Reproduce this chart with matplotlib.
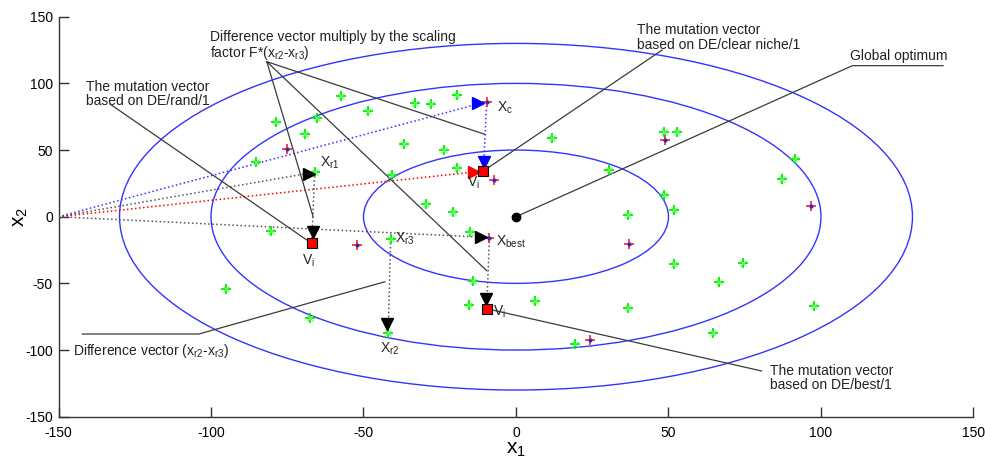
import matplotlib
matplotlib.use('Agg')
import matplotlib.pyplot as plt
from matplotlib.patches import Ellipse

plt.rcParams['font.family'] = ['Liberation Sans', 'DejaVu Sans']
plt.rcParams['mathtext.fontset'] = 'custom'
plt.rcParams['mathtext.rm'] = 'Liberation Sans'
plt.rcParams['mathtext.it'] = 'Liberation Sans'
plt.rcParams['mathtext.bf'] = 'Liberation Sans:bold'
plt.rcParams['axes.unicode_minus'] = False

# ---------------- data ----------------
contour_radii = [50, 100, 130]
optimum = (0, 0)
start_pt = (-150, 0)

green_x = [-78.8, -65.2, -69.2, -85.2, -66.0, -80.4, -57.3, -48.4, -40.5, -41.1,
           -19.5, -33.0, -28.0, 11.7, -36.6, -23.6, -19.5, -29.6, -20.8, -15.2,
           30.6, 48.4, 52.8, 91.4, 87.2, 48.6, 51.8, 36.6, 51.9, 74.4,
           66.6, 36.7, 97.7, 64.7, 19.5, -14.1, -15.5, 6.1, -41.9, -95.1, -67.7]
green_y = [70.8, 73.9, 62.2, 40.9, 33.4, -10.5, 90.5, 79.4, 31.5, -16.6,
           91.4, 85.5, 84.8, 59.4, 54.2, 50.1, 36.3, 9.6, 3.5, -11.5,
           34.9, 63.3, 63.3, 43.3, 28.6, 16.1, 5.4, 1.1, -35.8, -34.7,
           -48.6, -68.7, -66.7, -87.4, -95.2, -48.2, -66.5, -63.2, -87.0, -54.2, -75.7]

seed_x = [-75.0, -9.6, -7.2, -8.7, -52.0, 48.7, 96.6, 37.0, 24.3]
seed_y = [50.8, 86.3, 27.5, -15.6, -21.3, 57.9, 8.4, -20.1, -92.5]

# key individuals
x_r1 = (-66.0, 33.4)
x_r2 = (-41.9, -87.0)
x_r3 = (-41.1, -16.6)
x_c = (-9.6, 86.3)
x_best = (-8.7, -15.6)
v_rand = (-67.0, -20.0)
v_clear = (-10.7, 34.3)
v_best = (-9.6, -69.0)

# arrow heads
right_tri_x = [-68.0, -11.5]
right_tri_y = [32.4, -15.0]
blue_right_tri = (-12.4, 85.0)
red_right_tri = (-13.7, 33.8)
down_tri_x = [-66.7, -42.2, -9.8]
down_tri_y = [-11.7, -80.5, -61.5]
blue_down_tri = (-10.4, 41.0)

# point labels: (text, x, y)
point_labels = [
    (r'X$_{\mathrm{r1}}$', -64.3, 37.5),
    (r'X$_{\mathrm{c}}$', -6.3, 78.8),
    (r'V$_{\mathrm{i}}$', -16.0, 22.5),
    (r'X$_{\mathrm{best}}$', -6.7, -21.5),
    (r'V$_{\mathrm{i}}$', -7.4, -74.5),
    (r'X$_{\mathrm{r3}}$', -39.7, -19.5),
    (r'X$_{\mathrm{r2}}$', -44.6, -102.0),
    (r'V$_{\mathrm{i}}$', -70.3, -36.2),
]

# callouts
scale_text = 'Difference vector multiply by the scaling\nfactor F*(x$_{\\mathrm{r2}}$-x$_{\\mathrm{r3}}$)'
scale_text_pos = (-100.3, 128.0)
scale_hub = (-81.7, 116.3)
scale_targets_x = [-66.5, -10.2, -9.6]
scale_targets_y = [0.0, 61.8, -40.5]

rand_text = 'The mutation vector\nbased on DE/rand/1'
rand_text_pos = (-141.0, 92.0)
rand_anchor = (-133.1, 84.5)

clear_text = 'The mutation vector\nbased on DE/clear niche/1'
clear_text_pos = (39.8, 134.3)
clear_anchor = (47.9, 125.0)

glob_text = 'Global optimum'
glob_text_pos = (109.5, 120.5)
glob_line_x = [140.0, 110.3]
glob_line_y = [113.3, 113.3]

diff_text = 'Difference vector (x$_{\\mathrm{r2}}$-x$_{\\mathrm{r3}}$)'
diff_text_pos = (-145.3, -103.8)
diff_line_x = [-142.2, -104.0, -43.0]
diff_line_y = [-88.0, -88.0, -48.8]

best_text = 'The mutation vector\nbased on DE/best/1'
best_text_pos = (83.3, -121.0)
best_anchor = (80.5, -115.7)

ticks = [-150, -100, -50, 0, 50, 100, 150]

# ---------------- figure ----------------
fig = plt.figure(figsize=(9.85, 4.65), dpi=100)
ax = fig.add_axes([0.0594, 0.1039, 0.9289, 0.8601])
ax.set_xlim(-150, 150)
ax.set_ylim(-150, 150)

for r in contour_radii:
    ax.add_patch(Ellipse(optimum, 2 * r, 2 * r, fill=False, edgecolor='#3333ff', lw=1.0, zorder=2))

lc = '#3a3a3a'
dot_kw = dict(ls=':', lw=1.1, zorder=3)
# dotted vectors from start point
ax.plot([start_pt[0], x_c[0]], [start_pt[1], x_c[1]], color='#3333ff', **dot_kw)
ax.plot([start_pt[0], x_r1[0]], [start_pt[1], x_r1[1]], color='#555555', **dot_kw)
ax.plot([start_pt[0], v_clear[0]], [start_pt[1], v_clear[1]], color='#ff0000', **dot_kw)
ax.plot([start_pt[0], x_best[0]], [start_pt[1], x_best[1]], color='#555555', **dot_kw)
# vertical dotted difference vectors
ax.plot([x_r1[0], v_rand[0]], [x_r1[1], v_rand[1]], color='#555555', **dot_kw)
ax.plot([x_c[0], v_clear[0]], [x_c[1], v_clear[1]], color='#3333ff', **dot_kw)
ax.plot([x_r3[0], x_r2[0]], [x_r3[1], x_r2[1]], color='#555555', **dot_kw)
ax.plot([x_best[0], v_best[0]], [x_best[1], v_best[1]], color='#555555', **dot_kw)

# callout lines
cl_kw = dict(color=lc, lw=0.9, zorder=4)
for tx, ty in zip(scale_targets_x, scale_targets_y):
    ax.plot([scale_hub[0], tx], [scale_hub[1], ty], **cl_kw)
ax.plot([rand_anchor[0], v_rand[0]], [rand_anchor[1], v_rand[1]], **cl_kw)
ax.plot([clear_anchor[0], v_clear[0]], [clear_anchor[1], v_clear[1]], **cl_kw)
ax.plot(glob_line_x + [optimum[0]], glob_line_y + [optimum[1]], **cl_kw)
ax.plot(diff_line_x, diff_line_y, **cl_kw)
ax.plot([best_anchor[0], v_best[0]], [best_anchor[1], v_best[1]], **cl_kw)

# population
ax.plot(green_x, green_y, ls='none', marker='+', ms=7, mew=1.3, color='#00ee00', zorder=5)
ax.plot(green_x, green_y, ls='none', marker='x', ms=4, mew=0.8, color='#66ff66', zorder=5)
ax.plot(seed_x, seed_y, ls='none', marker='+', ms=7, mew=1.2, color='#ff2020', zorder=5)
ax.plot(seed_x, seed_y, ls='none', marker='.', ms=4, color='#3030c0', zorder=6)

# arrow heads
ax.plot(right_tri_x, right_tri_y, ls='none', marker='>', ms=9, color='black', zorder=7)
ax.plot(down_tri_x, down_tri_y, ls='none', marker='v', ms=9, color='black', zorder=7)
ax.plot([blue_right_tri[0]], [blue_right_tri[1]], ls='none', marker='>', ms=9, color='#0000ff', zorder=7)
ax.plot([blue_down_tri[0]], [blue_down_tri[1]], ls='none', marker='v', ms=9, color='#0000ff', zorder=7)
ax.plot([red_right_tri[0]], [red_right_tri[1]], ls='none', marker='>', ms=8, color='#ff0000', zorder=7)

# mutation vectors & optimum
sq_x = [v_rand[0], v_clear[0], v_best[0]]
sq_y = [v_rand[1], v_clear[1], v_best[1]]
ax.plot(sq_x, sq_y, ls='none', marker='s', ms=6.5, mfc='#ff0000', mec='black', mew=0.8, zorder=8)
ax.plot([optimum[0]], [optimum[1]], ls='none', marker='o', ms=6, color='black', zorder=8)

# texts
fs = 10
for t, x, y in point_labels:
    ax.text(x, y, t, fontsize=fs, ha='left', va='baseline', color='#222222', zorder=9)
ax.text(*scale_text_pos, scale_text, fontsize=fs, ha='left', va='center', linespacing=1.05, color='#222222')
ax.text(*rand_text_pos, rand_text, fontsize=fs, ha='left', va='center', linespacing=1.05, color='#222222')
ax.text(*clear_text_pos, clear_text, fontsize=fs, ha='left', va='center', linespacing=1.05, color='#222222')
ax.text(*glob_text_pos, glob_text, fontsize=fs, ha='left', va='center', color='#222222')
ax.text(*diff_text_pos, diff_text, fontsize=fs, ha='left', va='baseline', color='#222222')
ax.text(*best_text_pos, best_text, fontsize=fs, ha='left', va='center', linespacing=1.05, color='#222222')

# axes styling
for s in ['top', 'right']:
    ax.spines[s].set_visible(False)
for s in ['left', 'bottom']:
    ax.spines[s].set_color('#333333')
    ax.spines[s].set_linewidth(1.0)
ax.set_xticks(ticks)
ax.set_yticks(ticks)
ax.tick_params(direction='in', length=7, width=1, colors='#333333', labelcolor='black', labelsize=10)
ax.tick_params(axis='x', pad=7)
ax.tick_params(axis='y', pad=4)
ax.set_xlabel('x$_1$', fontsize=15, labelpad=0)
ax.set_ylabel('x$_2$', fontsize=15)
ax.yaxis.set_label_coords(-0.031, 0.5)

fig.savefig('out.png', dpi=100)
